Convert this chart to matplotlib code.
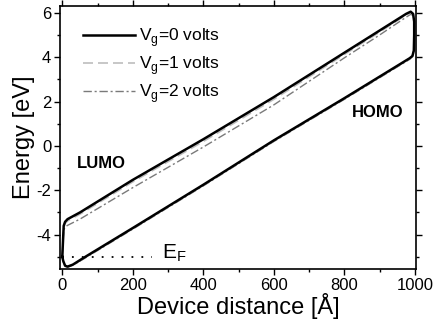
# ==========================================
# BANDAS DE ENERGIA - LUMO / HOMO
# ==========================================

import numpy as np
import matplotlib
matplotlib.use("Agg")
import matplotlib.pyplot as plt
from matplotlib.ticker import MultipleLocator


# ==========================================
# DADOS
# ==========================================

# LUMO: do contato esquerdo até o canto superior direito
lumo_x = [0, 2, 4, 8, 15, 50, 200, 400, 600, 800, 900, 975, 988, 995, 998]
lumo_vg0 = [-5.0, -4.3, -3.6, -3.42, -3.3, -3.0, -1.53, 0.3, 2.2, 4.2, 5.2, 5.95, 6.05, 5.95, 5.6]
lumo_vg1 = [-5.0, -4.35, -3.7, -3.5, -3.38, -3.08, -1.62, 0.2, 2.1, 4.12, 5.13, 5.9, 6.0, 5.92, 5.58]
lumo_vg2 = [-5.0, -4.4, -3.8, -3.65, -3.58, -3.3, -1.88, -0.05, 1.85, 3.97, 5.0, 5.8, 5.93, 5.88, 5.55]

# descida no contato direito
borda_x = [998, 997, 993]
borda_vg0 = [5.0, 4.3, 4.05]
borda_vg1 = [5.0, 4.3, 4.05]
borda_vg2 = [5.0, 4.3, 4.05]

# HOMO: do contato direito de volta ao esquerdo
homo_x = [985, 800, 600, 400, 200, 60, 30, 15, 8, 3, 0]
homo_vg0 = [3.95, 2.15, 0.25, -1.75, -3.7, -5.05, -5.35, -5.44, -5.4, -5.2, -5.0]
homo_vg1 = [3.93, 2.13, 0.23, -1.77, -3.72, -5.07, -5.37, -5.45, -5.41, -5.2, -5.0]
homo_vg2 = [3.9, 2.1, 0.2, -1.8, -3.75, -5.1, -5.38, -5.46, -5.42, -5.22, -5.0]

# nivel de Fermi
fermi_x = [0, 255]
fermi_y = [-5.0, -5.0]

rotulos = ["0", "1", "2"]


# ==========================================
# MONTAR CURVAS
# ==========================================

def montar_curva(lumo, borda, homo):

    x = np.concatenate([lumo_x, borda_x, homo_x])
    y = np.concatenate([lumo, borda, homo])

    return x, y


# ==========================================
# GRÁFICO
# ==========================================

plt.rcParams["font.family"] = ["Liberation Sans", "DejaVu Sans"]
plt.rcParams["mathtext.fontset"] = "custom"
plt.rcParams["mathtext.rm"] = "Liberation Sans"
plt.rcParams["axes.unicode_minus"] = False

fig = plt.figure(figsize=(4.36, 3.23), dpi=100)
ax = fig.add_axes([0.138, 0.167, 0.816, 0.814])

estilos = [
    dict(color="black", lw=1.8, ls="-"),
    dict(color="#bdbdbd", lw=1.2, ls=(0, (6, 3))),
    dict(color="#7a7a7a", lw=1.0, ls=(0, (6, 2, 1.5, 2))),
]

curvas = [
    montar_curva(lumo_vg0, borda_vg0, homo_vg0),
    montar_curva(lumo_vg1, borda_vg1, homo_vg1),
    montar_curva(lumo_vg2, borda_vg2, homo_vg2),
]

# desenha de trás para frente para o preto ficar por cima
for i in [2, 1, 0]:
    x, y = curvas[i]
    ax.plot(
        x, y,
        label="V$_\\mathregular{g}$=" + rotulos[i] + " volts",
        zorder=3 - i,
        **estilos[i]
    )

ax.plot(fermi_x, fermi_y, color="black", lw=1.3, ls=(0, (1, 4.5)))

# textos
ax.text(40, -0.78, "LUMO", fontsize=12, fontweight="bold", va="center")
ax.text(822, 1.5, "HOMO", fontsize=12, fontweight="bold", va="center")
ax.text(283, -4.85, "E$_\\mathregular{F}$", fontsize=15, va="center")

# legenda na ordem 0, 1, 2
handles, labels = ax.get_legend_handles_labels()
ax.legend(
    handles[::-1], labels[::-1],
    loc="upper left",
    bbox_to_anchor=(0.02, 0.985),
    frameon=False,
    fontsize=12.5,
    handlelength=3.0,
    handletextpad=0.25,
    labelspacing=0.3,
)

# eixos
ax.set_xlim(-6, 1003)
ax.set_ylim(-5.55, 6.3)

ax.xaxis.set_major_locator(MultipleLocator(200))
ax.xaxis.set_minor_locator(MultipleLocator(100))
ax.yaxis.set_major_locator(MultipleLocator(2))
ax.yaxis.set_minor_locator(MultipleLocator(1))

ax.tick_params(which="both", direction="out", top=True, right=True,
               labelsize=12, width=1.0)
ax.tick_params(which="major", length=4, pad=2.5)
ax.tick_params(which="minor", length=2.5)

for lado in ax.spines.values():
    lado.set_linewidth(1.2)

ax.set_xlabel("Device distance [Å]", fontsize=17, labelpad=0)
ax.set_ylabel("Energy [eV]", fontsize=17, labelpad=1)

fig.savefig("out.png", dpi=100)
